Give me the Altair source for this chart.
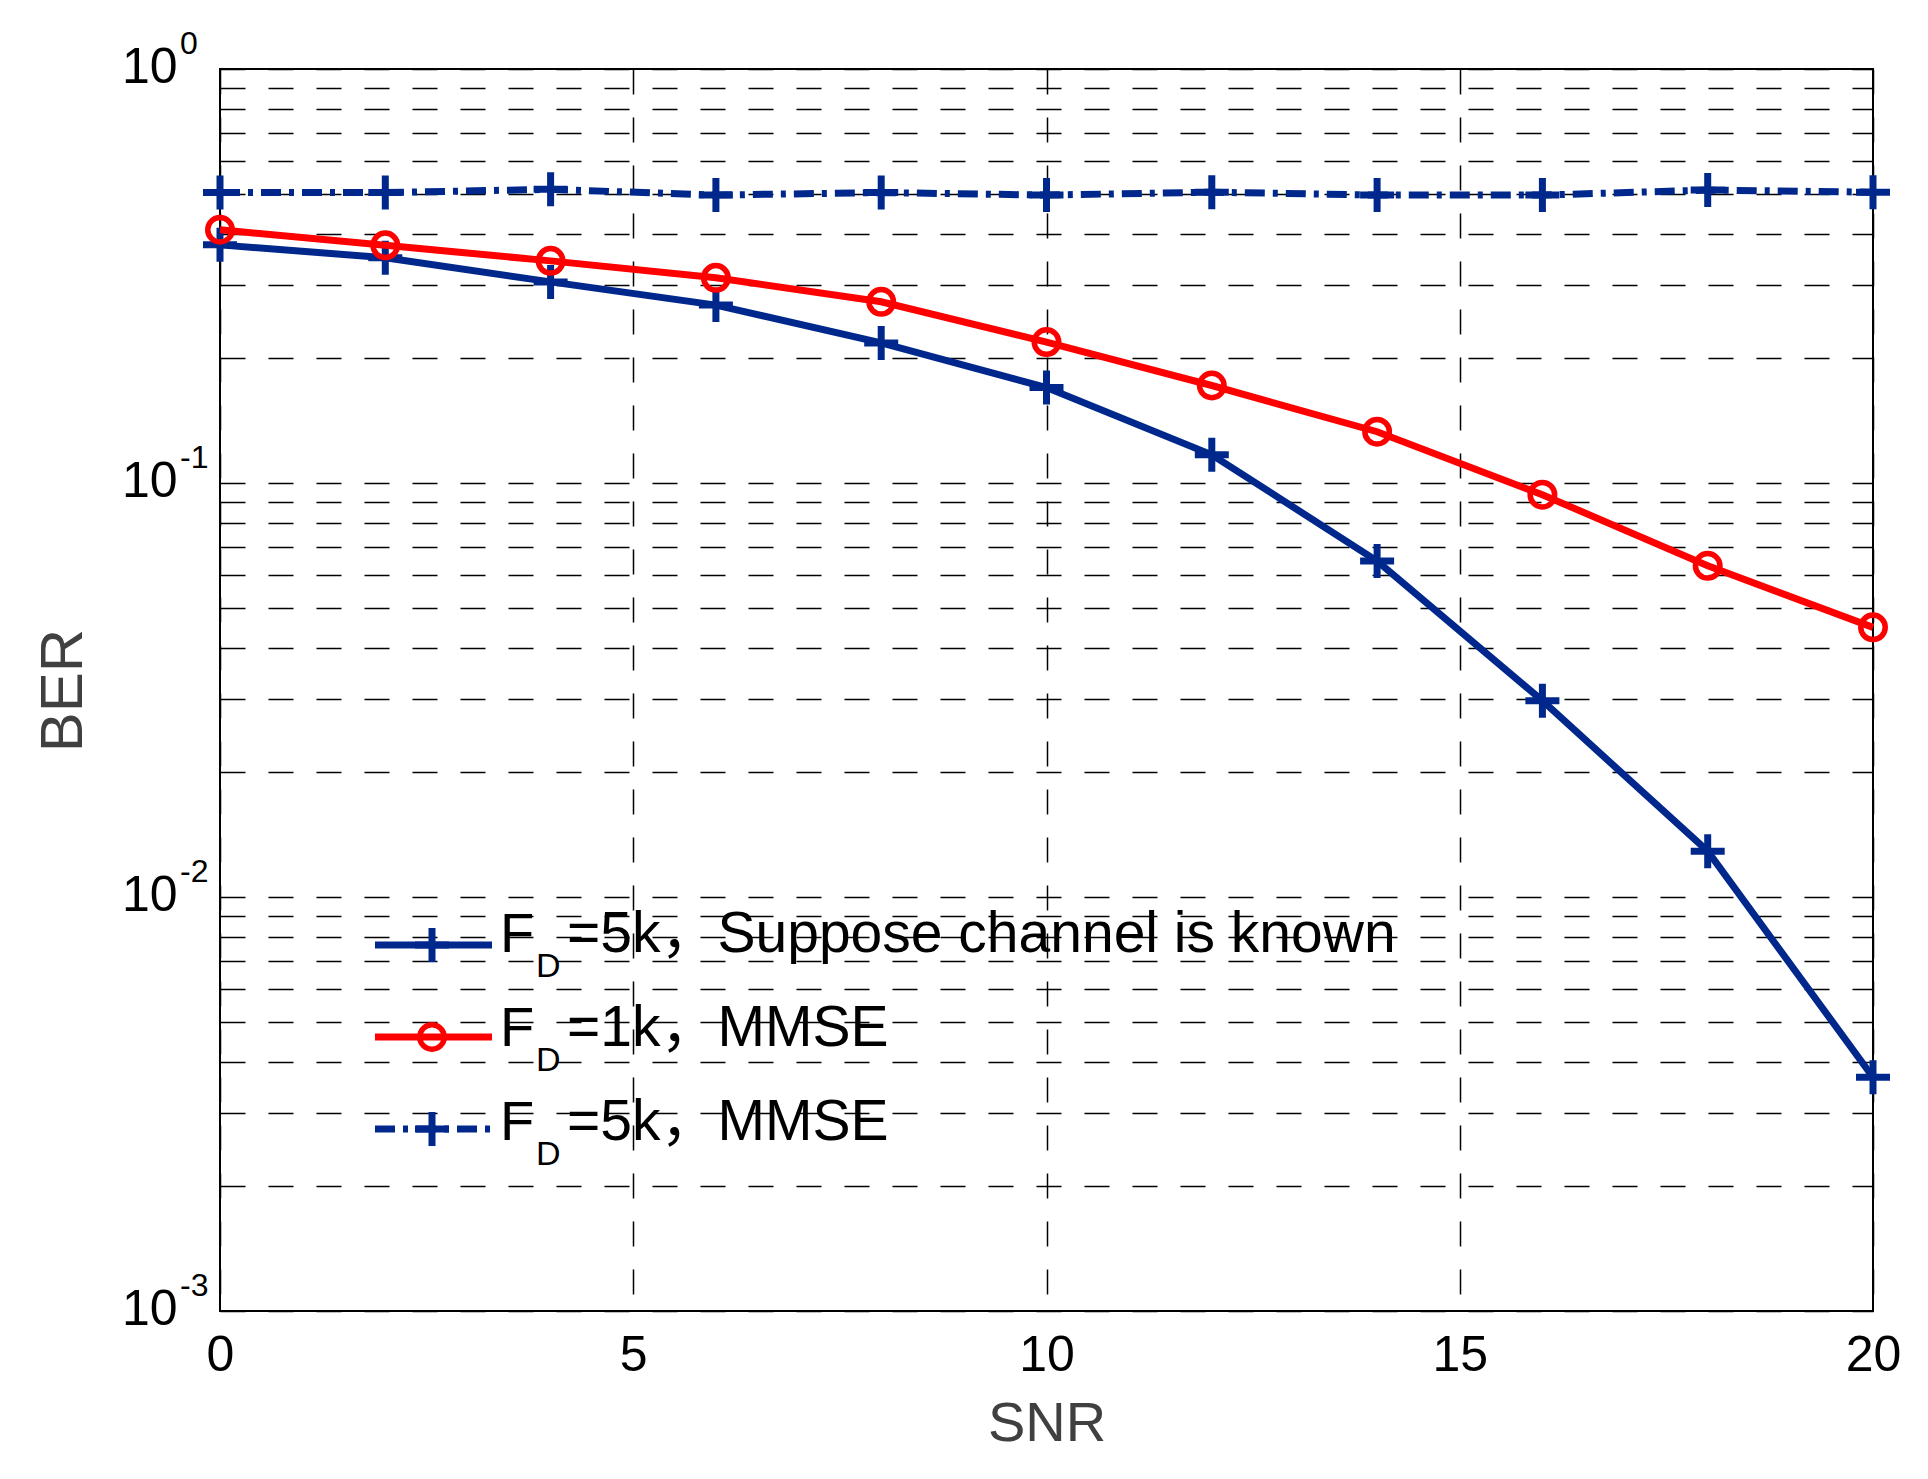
import altair as alt
import pandas as pd

# ---------------- data ----------------
snr = [0, 2, 4, 6, 8, 10, 12, 14, 16, 18, 20]
ber_known_5k = [0.376, 0.350, 0.306, 0.269, 0.218, 0.170, 0.117, 0.0648, 0.0298, 0.0129, 0.00367]
ber_mmse_1k = [0.409, 0.375, 0.344, 0.313, 0.274, 0.219, 0.172, 0.133, 0.0937, 0.0631, 0.0448]
ber_mmse_5k = [0.503, 0.503, 0.512, 0.496, 0.503, 0.496, 0.504, 0.496, 0.496, 0.510, 0.504]

x_ticks = [0, 5, 10, 15, 20]
y_grid = [m * 10.0 ** e for e in (-3, -2, -1) for m in range(1, 10)] + [1.0]
y_major = [1.0, 0.1, 0.01, 0.001]
y_exponents = ["0", "-1", "-2", "-3"]

legend_main = ["F", "F", "F"]
legend_sub = ["D", "D", "D"]
legend_rest = ["=5k\uff0cSuppose channel is known", "=1k\uff0cMMSE", "=5k\uff0cMMSE"]

# ---------------- styles ----------------
BLUE = "#00288c"
RED = "#ff0000"
FONT = "Liberation Sans, Arial, Noto Sans CJK SC"
PLUS = "M-1,0L1,0M0,-1L0,1"

xs = alt.Scale(domain=[0, 20], nice=False, zero=False)
ys = alt.Scale(type="log", domain=[0.001, 1], nice=False)

x_axis = alt.Axis(
    values=x_ticks, grid=True, gridColor="black", gridDash=[25, 23], gridWidth=1.5,
    gridOpacity=1, ticks=False, domain=False, labelFontSize=50, labelFont=FONT,
    labelColor="black", labelPadding=19, labelFlush=False, labelOverlap=False,
    title="SNR", titleFontSize=56, titleFont=FONT, titleFontWeight="normal",
    titleColor="#404040", titleY=129, titleBaseline="alphabetic",
)
y_axis = alt.Axis(
    values=y_grid, grid=True, gridColor="black", gridDash=[25, 23], gridWidth=1.5,
    gridOpacity=1, ticks=False, domain=False, labelFontSize=50, labelFont=FONT,
    labelColor="black", labelPadding=43, labelOverlap=False, labelFlush=False,
    labelBaseline="middle", labelOffset=-2,
    labelExpr="abs(log(datum.value)/LN10 - round(log(datum.value)/LN10)) < 0.001 ? '10' : ''",
    title="BER", titleFontSize=60, titleFont=FONT, titleFontWeight="normal",
    titleColor="#404040", titleX=-139, titleY=621, titleBaseline="alphabetic",
)

X = alt.X("snr:Q", scale=xs, axis=x_axis)
Y = alt.Y("ber:Q", scale=ys, axis=y_axis)

def series_df(vals):
    return pd.DataFrame({"snr": snr, "ber": vals})

DASHDOT = [20, 8, 5, 8]
styles = [
    (BLUE, None, PLUS, 1156, 7),
    (RED, None, "circle", 600, 5.5),
    (BLUE, DASHDOT, PLUS, 1156, 7),
]

layers = []
for vals, (color, dash, shape, size, sw) in zip([ber_known_5k, ber_mmse_1k, ber_mmse_5k], styles):
    df = series_df(vals)
    line_kwargs = dict(color=color, strokeWidth=7)
    if dash:
        line_kwargs["strokeDash"] = dash
    layers.append(alt.Chart(df).mark_line(**line_kwargs).encode(x=X, y=Y))
    layers.append(
        alt.Chart(df).mark_point(shape=shape, size=size, filled=False, color=color,
                                 strokeWidth=sw, opacity=1)
        .encode(x=X, y=Y)
    )

# exponent part of the y tick labels
exp_df = pd.DataFrame({"ber": y_major, "e": y_exponents})
layers.append(
    alt.Chart(exp_df).mark_text(align="left", baseline="alphabetic", fontSize=32,
                                font=FONT, color="black", dy=-15)
    .encode(x=alt.value(-40), y=Y, text="e:N")
)

# custom legend (no box)
for i, (color, dash, shape, size, sw) in enumerate(styles):
    ly = 876 + 92 * i
    tb = 883 + 94 * i
    row = pd.DataFrame({"main": [legend_main[i]], "sub": [legend_sub[i]], "rest": [legend_rest[i]]})
    rk = dict(color=color, strokeWidth=7)
    if dash:
        rk["strokeDash"] = dash
    layers.append(alt.Chart(row).mark_rule(**rk).encode(
        x=alt.value(155), x2=alt.value(272), y=alt.value(ly)))
    layers.append(alt.Chart(row).mark_point(shape=shape, size=size, filled=False, color=color,
                                            strokeWidth=sw, opacity=1).encode(
        x=alt.value(212), y=alt.value(ly)))
    layers.append(alt.Chart(row).mark_text(align="left", baseline="alphabetic", fontSize=56,
                                           font=FONT, color="black").encode(
        x=alt.value(280), y=alt.value(tb), text="main:N"))
    layers.append(alt.Chart(row).mark_text(align="left", baseline="alphabetic", fontSize=34,
                                           font=FONT, color="black").encode(
        x=alt.value(316), y=alt.value(tb + 25), text="sub:N"))
    layers.append(alt.Chart(row).mark_text(align="left", baseline="alphabetic", fontSize=57,
                                           font=FONT, color="black").encode(
        x=alt.value(347), y=alt.value(tb), text="rest:N"))

chart = (
    alt.layer(*layers)
    .properties(
        width=1653, height=1242,
        autosize=alt.AutoSizeParams(type="none"),
        padding={"left": 212, "top": 61, "right": 47, "bottom": 160},
        background="white",
    )
    .configure_view(stroke="black", strokeWidth=2)
)

chart.save("out.html", embed_options={"renderer": "svg", "actions": False})
